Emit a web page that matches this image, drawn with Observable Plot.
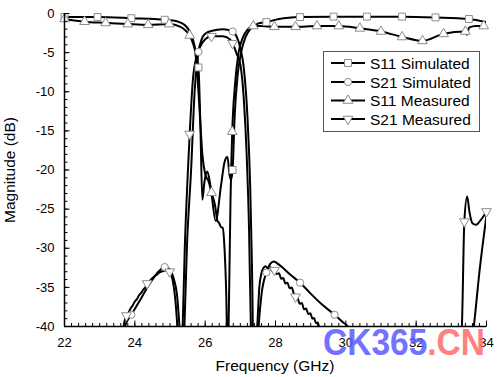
<!DOCTYPE html>
<html><head><meta charset="utf-8">
<script src="https://cdn.jsdelivr.net/npm/d3@7"></script>
<script src="https://cdn.jsdelivr.net/npm/@observablehq/plot@0.6"></script>
<style>
html,body{margin:0;padding:0;background:#fff;}
#chart{width:500px;height:377px;position:relative;}
</style>
</head><body><div id="chart"></div>
<script>
// ---- tick values ----
const xTicks = [22, 24, 26, 28, 30, 32, 34];
const yTicks = [0, -5, -10, -15, -20, -25, -30, -35, -40];
const xMinor = d3.range(110, 171).map(d => d / 5);
const yMinor = d3.range(-40, 1);

const seriesNames = ["S11 Simulated", "S21 Simulated", "S11 Measured", "S21 Measured"];

// ---- S11 Simulated ----
const s11SimX = [22, 22.94, 23.9, 24.85, 25.2, 25.4, 25.55, 25.65, 25.73, 25.81, 25.86, 25.92, 25.98, 26.06, 26.15, 26.3, 26.45, 26.55, 26.63, 26.7, 26.74, 26.78, 26.84, 26.92, 27.02, 27.15, 27.3, 27.5, 27.74, 28.1, 28.7, 29.65, 30.6, 31.6, 32.55, 33.5, 34];
const s11SimY = [-0.45, -0.45, -0.6, -0.8, -1.0, -1.4, -2.2, -3.3, -4.8, -6.9, -13.5, -23.8, -21.5, -20.2, -22, -26.5, -22, -19, -18.3, -20.8, -21.2, -20, -13, -8, -5, -3, -1.9, -1.3, -1.1, -0.7, -0.45, -0.4, -0.4, -0.4, -0.5, -0.7, -1.1];
const s11SimMarks = [22, 22.94, 23.9, 24.85, 25.81, 26.78, 27.74, 28.7, 29.65, 30.6, 31.6, 32.55, 33.5];

// ---- S21 Simulated ----
const s21SimX = [23.6, 23.72, 23.9, 24.1, 24.4, 24.65, 24.85, 25.0, 25.1, 25.2, 25.27, 25.34, 25.41, 25.48, 25.6, 25.7, 25.81, 25.9, 26.0, 26.2, 26.5, 26.78, 26.9, 27.0, 27.1, 27.2, 27.28, 27.33, 27.38, 27.45, 27.52, 27.6, 27.74, 27.85, 27.95, 28.1, 28.4, 28.7, 29.0, 29.3, 29.68, 29.9, 30.1, 30.3, 33.5, 33.64, 33.8, 34];
const s21SimY = [-45, -40, -38.5, -37, -34.7, -33.1, -32.4, -32.7, -33.8, -36, -40, -45, -40, -30, -20, -10, -4.9, -3.3, -2.6, -2.2, -2.0, -2.3, -3.0, -4.4, -7, -13, -22, -32, -45, -45, -40, -36, -33.1, -32.0, -31.7, -32.1, -33.3, -34.4, -35.8, -37.1, -38.5, -39.4, -40.3, -43, -45, -40, -33, -25.8];
const s21SimMarks = [23.9, 24.85, 25.81, 26.78, 27.74, 28.7, 29.68];

// ---- S11 Measured ----
const s11MeasX = [22, 22.57, 23.17, 23.8, 24.38, 24.98, 25.3, 25.45, 25.56, 25.66, 25.72, 25.78, 25.85, 25.92, 26.0, 26.1, 26.18, 26.28, 26.35, 26.4, 26.45, 26.5, 26.55, 26.6, 26.64, 26.68, 26.72, 26.77, 26.85, 26.95, 27.08, 27.2, 27.37, 27.6, 27.97, 28.57, 29.18, 29.8, 30.4, 31.0, 31.6, 32.18, 32.78, 33.4, 33.45, 33.5, 33.7, 33.92, 34];
const s11MeasY = [-0.7, -1.05, -1.2, -1.35, -1.45, -1.35, -1.7, -2.2, -2.8, -3.9, -5, -8, -13, -18, -20.5, -21.5, -22.9, -24.5, -26.5, -26.8, -27.3, -27.4, -30, -36, -45, -36, -24, -15.1, -9, -5, -3, -2.1, -1.6, -1.6, -1.7, -1.7, -1.6, -1.6, -1.9, -2.3, -3.0, -3.5, -2.6, -2.3, -2.7, -1.8, -1.6, -1.6, -1.6];
const s11MeasMarks = [22, 22.57, 23.17, 23.8, 24.38, 24.98, 25.56, 26.18, 26.77, 27.37, 27.97, 28.57, 29.18, 29.8, 30.4, 31.0, 31.6, 32.18, 32.78, 33.4, 33.92];

// ---- S21 Measured ----
const s21MeasX = [23.62, 23.68, 23.76, 23.82, 23.88, 23.94, 24.0, 24.06, 24.12, 24.18, 24.24, 24.3, 24.35, 24.42, 24.48, 24.55, 24.62, 24.7, 24.8, 24.9, 24.99, 25.08, 25.15, 25.21, 25.28, 25.36, 25.42, 25.5, 25.56, 25.65, 25.75, 25.85, 26.0, 26.18, 26.5, 26.7, 26.78, 26.9, 27.0, 27.1, 27.18, 27.25, 27.3, 27.38, 27.48, 27.54, 27.6, 27.66, 27.72, 27.78, 27.85, 27.9, 27.97, 28.03, 28.1, 28.16, 28.22, 28.28, 28.34, 28.4, 28.46, 28.52, 28.57, 28.63, 28.69, 28.75, 28.81, 28.87, 28.93, 28.99, 29.05, 29.1, 29.15, 29.2, 29.26, 29.32, 33.2, 33.3, 33.37, 33.45, 33.52, 33.6, 33.7, 33.8, 33.9, 34];
const s21MeasY = [-45, -40, -38.6, -38.2, -37.7, -37.3, -36.8, -36.5, -36.0, -35.7, -35.3, -35.0, -34.5, -34.2, -33.9, -33.6, -33.4, -33.1, -32.9, -32.8, -33.0, -34.2, -36.5, -40, -45, -40, -30, -21, -15.4, -8.5, -5.6, -4.3, -3.3, -2.9, -2.9, -3.3, -3.8, -5.2, -6.5, -11, -18, -28, -40, -45, -40, -35, -33.2, -32.5, -32.3, -32.6, -32.4, -32.9, -32.8, -33.3, -33.2, -33.9, -33.8, -34.5, -34.4, -35.1, -35.0, -35.8, -36.2, -36.4, -37.1, -37.0, -37.8, -37.7, -38.4, -38.3, -39.0, -38.9, -39.6, -39.5, -40.5, -42, -45, -40, -26.6, -23.4, -25.5, -26.8, -27.0, -26.6, -26.0, -25.3];
const s21MeasMarks = [23.76, 24.35, 24.99, 25.56, 26.18, 26.78, 27.97, 28.57, 33.37, 34];

// ---- build tables ----
function rows(xs, ys, name) { return xs.map((x, i) => ({x, y: ys[i], name})); }
function markRows(data, marks) {
  const s = new Set(marks);
  return data.filter(d => s.has(d.x) && d.y >= -40 && d.y <= 0);
}
const s11Sim = rows(s11SimX, s11SimY, seriesNames[0]);
const s21Sim = rows(s21SimX, s21SimY, seriesNames[1]);
const s11Meas = rows(s11MeasX, s11MeasY, seriesNames[2]);
const s21Meas = rows(s21MeasX, s21MeasY, seriesNames[3]);

// downward triangle symbol
const triDown = {
  draw(context, size) {
    const y = -Math.sqrt(size / (Math.sqrt(3) * 3));
    context.moveTo(0, -y * 2);
    context.lineTo(-Math.sqrt(3) * y, y);
    context.lineTo(Math.sqrt(3) * y, y);
    context.closePath();
  }
};
// inward tick symbols
const tickUp = len => ({draw(ctx) { ctx.moveTo(0, 0); ctx.lineTo(0, -len); }});
const tickRight = len => ({draw(ctx) { ctx.moveTo(0, 0); ctx.lineTo(len, 0); }});

const symbols = ["square", "circle", "triangle", triDown];
const symR = [3.9, 3.6, 3.6, 3.6];
const markerStyle = {fill: "#fff", stroke: "#8c8c8c", strokeWidth: 1};
const lineStyle = {x: "x", y: "y", stroke: "#000", strokeWidth: 2, curve: "monotone-x", clip: true};
const tickStyle = {r: 1, fill: "none", stroke: "#000", strokeWidth: 1};

const chart = Plot.plot({
  width: 500, height: 377,
  marginLeft: 64, marginRight: 14, marginTop: 13, marginBottom: 51,
  x: {domain: [22, 34]},
  y: {domain: [-40, 0]},
  style: {fontFamily: "'Liberation Sans', Arial, sans-serif", fontSize: "13px", color: "#000", background: "#fff", overflow: "visible"},
  marks: [
    Plot.line(s11Sim, lineStyle),
    Plot.line(s21Sim, lineStyle),
    Plot.line(s11Meas, lineStyle),
    Plot.line(s21Meas, lineStyle),
    Plot.dot(markRows(s11Sim, s11SimMarks), {x: "x", y: "y", symbol: symbols[0], r: symR[0], ...markerStyle}),
    Plot.dot(markRows(s21Sim, s21SimMarks), {x: "x", y: "y", symbol: symbols[1], r: symR[1], ...markerStyle}),
    Plot.dot(markRows(s11Meas, s11MeasMarks), {x: "x", y: "y", symbol: symbols[2], r: symR[2], ...markerStyle}),
    Plot.dot(markRows(s21Meas, s21MeasMarks), {x: "x", y: "y", symbol: symbols[3], r: symR[3], ...markerStyle}),
    // inward ticks
    Plot.dot(xMinor, {x: d => d, y: () => -40, symbol: tickUp(3.5), ...tickStyle}),
    Plot.dot(xTicks, {x: d => d, y: () => -40, symbol: tickUp(6), ...tickStyle}),
    Plot.dot(yMinor, {x: () => 22, y: d => d, symbol: tickRight(3), ...tickStyle}),
    Plot.dot(yTicks, {x: () => 22, y: d => d, symbol: tickRight(5), ...tickStyle}),
    // tick labels
    Plot.axisX(xTicks, {tickSize: 0, tickPadding: 11, tickFormat: d => String(d), label: null}),
    Plot.axisY(yTicks, {tickSize: 0, tickPadding: 10, tickFormat: d => String(d), label: null}),
    Plot.ruleY([-40], {stroke: "#000", strokeWidth: 1.5}),
    Plot.ruleX([22], {stroke: "#000", strokeWidth: 1.5})
  ]
});
document.getElementById("chart").appendChild(chart);

// ---- labels, legend, watermark ----
const svg = d3.select(chart);
const font = "'Liberation Sans', Arial, sans-serif";
svg.append("text").attr("x", 275).attr("y", 371).attr("text-anchor", "middle")
  .attr("font-family", font).attr("font-size", 15.5).attr("fill", "#000").text("Frequency (GHz)");
svg.append("text").attr("transform", "translate(15,170) rotate(-90)").attr("text-anchor", "middle")
  .attr("font-family", font).attr("font-size", 15.5).attr("fill", "#000").text("Magnitude (dB)");

const lg = svg.append("g");
lg.append("rect").attr("x", 323.5).attr("y", 51.5).attr("width", 156).attr("height", 80)
  .attr("fill", "#fff").attr("stroke", "#555").attr("stroke-width", 1);
const rowY = [63, 82, 100.5, 119];
seriesNames.forEach((name, i) => {
  const y = rowY[i];
  lg.append("line").attr("x1", 331).attr("x2", 365).attr("y1", y).attr("y2", y)
    .attr("stroke", "#000").attr("stroke-width", 2);
  const type = typeof symbols[i] === "string"
    ? {square: d3.symbolSquare, circle: d3.symbolCircle, triangle: d3.symbolTriangle}[symbols[i]]
    : symbols[i];
  lg.append("path").attr("transform", `translate(348,${y})`)
    .attr("d", d3.symbol(type, symR[i] * symR[i] * Math.PI)())
    .attr("fill", "#fff").attr("stroke", "#8c8c8c").attr("stroke-width", 1);
  lg.append("text").attr("x", 370).attr("y", y + 5.5).attr("text-anchor", "start")
    .attr("font-family", font).attr("font-size", 15.5).attr("fill", "#000").text(name);
});

const wm = svg.append("text").attr("x", 323).attr("y", 355).attr("text-anchor", "start")
  .attr("font-family", font).attr("font-weight", "bold").attr("font-size", 36)
  .attr("textLength", 162).attr("lengthAdjust", "spacingAndGlyphs").attr("opacity", 0.85);
wm.append("tspan").attr("fill", "#5a5aff").text("CK365");
wm.append("tspan").attr("fill", "#ff6b6b").text(".CN");
</script>
</body></html>
